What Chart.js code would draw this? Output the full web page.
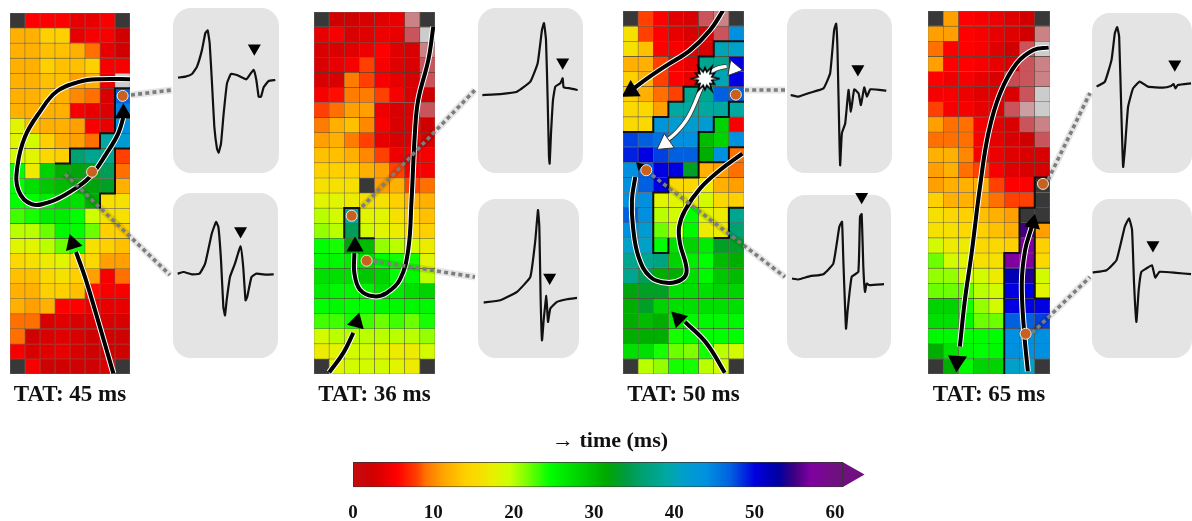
<!DOCTYPE html>
<html>
<head>
<meta charset="utf-8">
<title>Activation maps</title>
<script src="https://cdn.jsdelivr.net/npm/chart.js@4/dist/chart.umd.min.js"></script>
<style>
html, body { margin: 0; padding: 0; background: #fff; }
#fig { position: relative; width: 1192px; height: 521px; overflow: hidden; filter: blur(0.4px); }
#fig canvas { position: absolute; }
.card { position: absolute; background: #e4e4e4; border-radius: 18px; }
</style>
</head>
<body>
<div id="fig"></div>
<script>
// activation time in ms for each electrode, rows top to bottom, null = no signal
var map1Values = [
  [null,5.5,5.5,5.5,4,4,5,null],
  [12,12,14,14,4,5,5,2.5],
  [12,12,13,13,12,9,4,2.5],
  [12,12,14,13,13,14,5,5],
  [12,12,13,13,11,12,4,5],
  [12,12,13,12,10,9,3,47],
  [12,12,12,12,5,4,3,45],
  [18,13,12,12,11,5,4,44],
  [18,19,14,12,11,9,39,42],
  [19,18,15,14,36,38,38,8],
  [24.5,17,28,31,32,32,35,9],
  [24.5,27,29,30,31,32,33,12],
  [24.5,24.5,26,28,27,31,16,16],
  [23,24,26,26,24.5,19.5,16,16],
  [20,20,22,25,24.5,22,14,14],
  [18,18,20,22,24,16,14,13],
  [15,16,17,18,15,15,11,11],
  [13,13,15,16,14,11,5,9],
  [12,12,14,14,13,6,5,5],
  [12,11,12,5.5,5.5,4,4,4],
  [9,9,3,3.5,3,3,3,3],
  [9,2,3,3.5,3,2.5,2.5,2],
  [5,3,3.5,4,3,2,2.5,2],
  [null,5,2,2.5,2,2,3,null]
];
var map2Values = [
  [null,2.5,2,3,3.5,4,3,null],
  [4,5,3,3.5,4.5,4,3,3],
  [3,3,3.5,4.5,5.5,3.5,3,3],
  [3,4,5,8,5,3.5,3,3],
  [3,3,9.5,8,5,4,3,3],
  [5,6,9.5,9.5,8,5,3,2.5],
  [8,9,11,11,4.5,3,3,3],
  [9.5,12,13,10,5,3,3,2.5],
  [11,12,9.5,8,4,3,3,3],
  [13,13,12,10,8,4.5,4,5],
  [14,14,14,12,11,8,5,5],
  [16,16,16,null,11,12,8,9],
  [18,18,17,16,16,14,12,12],
  [20,19,39,18,18,16,14,13],
  [21,20,35,19,18,17,15,14],
  [24.5,24,32,30,21,20,19,17],
  [25,25,26,27,24.5,24,24,18],
  [27,27,27,29,28,24.5,25,20],
  [26,25,25,25.5,27,26,27,28],
  [24.5,25,24.5,24.5,25,25,25,25],
  [23,23,24,23,22,23,22,24],
  [19,20,20,20,20,20,20,21],
  [17,18,19,19,18,17,17,19],
  [null,18,19,19,19,18,17,null]
];
var map3Values = [
  [null,8,5.5,3.5,3,3,3,null],
  [16,8,5.5,4,3,3,3,44],
  [16,13,5.5,5,3.5,3,40,41],
  [12,12,8,5,4,38,38,50],
  [14,12,8,5.5,4,38,40,50],
  [14,12,9,8,38,38,47,47],
  [15,15,11,39,39,39,39,39],
  [15,15,43,42,42,42,28,5],
  [48,47,46,44,44,30,28,44],
  [49,50,48,47,47,31,44,9],
  [44,47,50,50,33,12,11,9],
  [44,47,50,15,15,17,12,11],
  [44,44,18,18,17,19,15,14],
  [47,44,20,19,24.5,18,17,38],
  [44,42,22,20,25,17,17,36],
  [41,41,24.5,27,28,26,33,33],
  [38,38,37,28,26,24.5,30,31],
  [38,35,31,31,27,25,29,30],
  [32,33,33,27,27,27,28,28],
  [31,33,28,27,27,27,27,27],
  [31,30,31,26,25,25,25,25],
  [31,31,31,24,24.5,24.5,24.5,24.5],
  [27,27,24,22,21.5,24,20,19],
  [null,20,21,24,24,20,19,null]
];
var map4Values = [
  [null,11,5.5,5,4.5,3.5,2.5,null],
  [11,11,5.5,5,4,3.5,2.5,3],
  [9,5.5,5.5,5,3.5,2.5,3,3],
  [11,5.5,5.5,5,4,3,3,3],
  [5.5,4.5,5,4,3,3,3,3],
  [5,5,4.5,3.5,3,3,3,3],
  [8,5,5,4,3,3,3,3],
  [11,9,9,5,3.5,3,3,3],
  [9,9,9,5,4,3,2.5,3],
  [12,12,10,5,4.5,3.5,3,3],
  [11,12,9,8,5,3.5,3,3],
  [11,12,12,12,8,5.5,5.5,null],
  [14,12,12,11,9,8,8,null],
  [16,15,14,13,12,11,null,null],
  [16,16,15,14,13,12,55,11],
  [19,17,17,15,15,14,57,14],
  [22,19,18,16,16,57,57,15],
  [21,21,19,19,17,52,54,19],
  [22,22,22,20,19,50,50,18],
  [28,28,24,21,19,50,50,50],
  [27,27,25,22,22,47,47,48],
  [25,25,24.5,24.5,24.5,44,44,44],
  [31,27,25,24.5,25,44,44,44],
  [null,31,25,28,28,41,41,null]
];

// low voltage electrodes shown washed out: row, column, amount of grey
var map1Pale = [[4,7,1]];
var map2Pale = [[0,6,.6],[1,6,.35],[1,7,1],[2,7,.6],[3,7,.35],[4,7,.35],[6,7,.35]];
var map3Pale = [[0,5,.35],[0,6,.6],[1,6,.35]];
var map4Pale = [[1,7,.6],[2,6,.35],[2,7,1],[3,6,.35],[3,7,.6],[4,5,.3],[4,6,.35],[4,7,.6],[5,6,.35],[5,7,1],
  [6,5,.35],[6,6,.75],[6,7,1],[7,6,.35],[7,7,.6],[8,7,.35]];

var mapTitles = ["TAT: 45 ms", "TAT: 36 ms", "TAT: 50 ms", "TAT: 65 ms"];

// colour scale
var rampStops = [0,2.5,5.5,8,9,11,14,16,17.5,19.5,21.5,24.5,27,29,31.5,34,36,39,41,44,47,50,53,55,57,60];
var rampColors = ["#c40c10","#d00000","#ff0000","#ff4000","#ff7000","#ffa000","#ffd000","#f5e000","#e8f000","#ccff00",
  "#80ff00","#00ff00","#00e000","#00c800","#00a800","#009a40","#00a070","#00a8a0","#00a0c8","#0090e0",
  "#0060e0","#0000e0","#0000a0","#400080","#8000a0","#701080"];
var rampTicks = [0,10,20,30,40,50,60];

// conduction block lines, in cell units
var map1Blocks = [
  {x:[8,7,7,6,6,4,4,3], y:[5,5,8,8,9,9,10,10]},
  {x:[8,7,7,6,6], y:[9,9,12,12,13]}
];
var map2Blocks = [
  {x:[2,2,3,3,4], y:[15,13,13,15,15]}
];
var map3Blocks = [
  {x:[8,6,6,5,5,4,4,3,3,2,2,0], y:[2,2,3,3,5,5,6,6,7,7,8,8]},
  {x:[3,3,2,2,3,3,4,5,5,7,7,8], y:[15,16,16,12,12,11,11,11,10,10,9,9]},
  {x:[8,7,7,6], y:[13,13,15,15]},
  {x:[5,5,6,6,7,7,8], y:[10,8,8,7,7,6,6]}
];
var map4Blocks = [
  {x:[5,5,6,6,7,7,8], y:[24,16,16,13,13,11,11]},
  {x:[8,7,7,8], y:[14,14,19,19]}
];

// wavefront paths, in cell units
var map1Paths = [
  {x:[8,6,4.67,3.11,2,1,.49,.56,1.44,2.67,4,5.33,6.44,7.22,7.6], y:[4.4,4.4,4.56,5.22,6.56,8.22,10.22,11.78,12.71,12.56,11.89,10.89,9.33,8,6.78]},
  {x:[6.89,6,5,4.4], y:[23.96,20.89,17.56,15.89]}
];
var map2Paths = [
  {x:[7.89,7.56,6.89,6.67,6.45,6.23,5.68,4.8,3.96,3.04,2.67,2.67], y:[.97,3.18,5.83,8.04,12.45,15.76,17.75,18.63,18.85,18.41,17.31,15.98]},
  {x:[1.01,1.94,2.6], y:[23.89,22.6,21.28]}
];
var map3Paths = [
  {x:[6.62,5.75,4.43,2.89,1.58,.7], y:[-.04,1.28,2.6,3.59,4.47,5.13]},
  {x:[7.89,6.4,5.09,4.1,3.71,3.77,4.21,3.88,2.89,1.8,1.03,.66,.59,.81], y:[9.43,10.53,11.74,13.17,14.27,15.37,17.14,17.75,17.97,17.58,16.26,14.27,12.51,10.97]},
  {x:[6.73,5.53,4.1], y:[23.92,21.98,20.55]}
];
var map4Paths = [
  {x:[7.91,6.92,5.82,4.73,3.96,3.41,2.86,2.42,2.09], y:[2.42,2.58,3.46,5.44,8.08,11.61,16.01,19.1,22.18]},
  {x:[6.55,6.31,6.15,6.37,6.81], y:[23.83,21.3,18,15.8,14.25]}
];
var map3WhitePaths = [
  {x:[5.2,4.32,3.44,2.57], y:[5.02,7,8.11,8.77]},
  {x:[5.53,6.18,6.85], y:[4.25,3.81,3.66]}
];

// arrow heads: x, y, direction, size
var map1Heads = [[7.56,6.67,0,10],[4.18,15.33,-18,10]];
var map2Heads = [[2.71,15.54,0,10],[2.82,20.57,15,10]];
var map3Heads = [[.53,5.29,-122,11],[1.1,10.24,-45,5],[3.66,20.33,-45,10]];
var map4Heads = [[1.91,23.17,184,11],[6.88,14.03,12,9.5]];
var map3WhiteHeads = [[2.79,8.77,-125,10],[7.32,3.81,100,9]];

// recording sites
var map1Sites = {x:[7.51,5.47], y:[5.51,10.56]};
var map2Sites = {x:[2.49,3.48], y:[13.51,16.49]};
var map3Sites = {x:[7.46,1.54], y:[5.53,10.53]};
var map4Sites = {x:[7.54,6.4], y:[11.43,21.34]};
var map3Origin = {x:[5.42], y:[4.47]};

// electrograms
var wave1aT = [0,22,42,57,72,82,89,95,102,109,117,122,129,137,147,159,177,205,217,227,235,242,249,257,272,292];
var wave1aV = [0,3,11,33,83,133,141,103,-17,-147,-212,-224,-197,-107,-17,11,8,-5,11,23,-7,-57,-57,-29,-10,-7];
var wave1bT = [0,18,43,66,83,103,116,123,131,138,143,148,158,173,190,198,205,210,223,238,268,290];
var wave1bV = [0,5,-2,0,30,120,155,140,40,-100,-125,-80,-10,30,82,20,-80,-70,-10,0,-3,-2];
var wave2aT = [0,54,104,144,166,179,185,191,196,200,202,206,212,219,234,241,244,264,286];
var wave2aV = [0,3,10,40,95,195,215,165,-15,-185,-205,-115,-15,25,35,50,23,20,15];
var wave2bT = [0,50,100,140,155,163,167,171,175,180,188,193,200,220,250,280];
var wave2bV = [0,7,32,77,187,277,227,7,-113,-53,20,-58,-18,2,10,14];
var wave3aT = [0,23,58,98,118,130,136,140,146,148,153,163,173,180,190,203,210,220,228,238,286];
var wave3aV = [0,-5,7,20,65,195,213,135,-145,-210,-115,-85,15,-50,17,5,-30,23,-5,17,13];
var wave3bT = [0,19,54,94,124,142,150,154,162,167,179,199,204,209,214,219,224,232,276];
var wave3bV = [0,-3,7,13,45,155,170,55,-150,-95,5,20,185,193,35,-40,-15,-20,-17];
var wave4aT = [0,25,45,55,62,68,75,80,85,95,110,130,155,200,225,232,238,245,285];
var wave4aV = [0,15,80,160,178,150,-90,-240,-190,-60,-5,15,0,-3,2,8,-5,5,10];
var wave4bT = [0,42,72,97,110,119,125,132,139,147,162,179,189,202,252,297];
var wave4bV = [0,7,37,137,162,127,-33,-148,-53,2,12,22,-15,2,-1,-5];

// late potential marked with a triangle on each trace
var markerT = [229,190,241,198,201,209,236,182];
var markerV = [88,128,98,75,78,245,67,82];

// dotted lines from the site to its trace, in page units
var linkX = [[131,172],[65,170],[362,475],[373,475],[745,785],[652,785],[1048,1090],[1032,1090]];
var linkY = [[95,90],[174,275],[207,90],[261,277],[90,90],[175,277],[180,93],[333,277]];

var fig = document.getElementById("fig");
var serif = "'Liberation Serif', 'Times New Roman', serif";

function addCanvas(parent, left, top, width, height) {
  var c = document.createElement("canvas");
  c.width = width;
  c.height = height;
  c.style.left = left + "px";
  c.style.top = top + "px";
  c.style.width = width + "px";
  c.style.height = height + "px";
  parent.appendChild(c);
  return c;
}

function hexToRgb(h) {
  return [parseInt(h.substr(1,2),16), parseInt(h.substr(3,2),16), parseInt(h.substr(5,2),16)];
}

function colorAt(v) {
  if (v === null) return "#383838";
  for (var i = 1; i < rampStops.length; i++) {
    if (v <= rampStops[i]) {
      var f = (v - rampStops[i-1]) / (rampStops[i] - rampStops[i-1]);
      var a = hexToRgb(rampColors[i-1]), b = hexToRgb(rampColors[i]);
      return "rgb(" + Math.round(a[0]+(b[0]-a[0])*f) + "," + Math.round(a[1]+(b[1]-a[1])*f) + "," + Math.round(a[2]+(b[2]-a[2])*f) + ")";
    }
  }
  return rampColors[rampColors.length-1];
}

function paleColor(f) {
  return "rgb(" + Math.round(200+4*f) + "," + Math.round(20+184*f) + "," + Math.round(30+174*f) + ")";
}

function zip(p) {
  return p.x.map(function(x, i) { return {x: x, y: p.y[i]}; });
}

function pathSet(p, color, width, order) {
  return {type: "line", data: zip(p), xAxisID: "xl", yAxisID: "yl", borderColor: color, borderWidth: width,
    pointRadius: 0, tension: 0.4, fill: false, clip: false, order: order};
}

function headSet(h, color, edge, order) {
  return {type: "line", data: [{x: h[0], y: h[1]}], xAxisID: "xl", yAxisID: "yl", showLine: false, clip: false,
    pointStyle: "triangle", pointRadius: h[3], pointRotation: h[2], pointBackgroundColor: color,
    pointBorderColor: edge, pointBorderWidth: edge ? 1 : 0, order: order};
}

// white burst for the breakout point
function burstImage() {
  var c = document.createElement("canvas");
  c.width = 30; c.height = 30;
  var g = c.getContext("2d");
  g.beginPath();
  for (var i = 0; i < 24; i++) {
    var r = i % 2 ? 7 : (i % 4 ? 11 : 14);
    var a = i * Math.PI / 12;
    g.lineTo(15 + r * Math.cos(a), 15 + r * Math.sin(a));
  }
  g.closePath();
  g.fillStyle = "#fff";
  g.fill();
  g.lineWidth = 1.6;
  g.strokeStyle = "#000";
  g.stroke();
  return c;
}

function drawMap(box, title, values, pale, blocks, paths, heads, sites, extra) {
  var colors = values.map(function(row) { return row.map(colorAt); });
  pale.forEach(function(p) { colors[p[0]][p[1]] = paleColor(p[2]); });

  var sets = [];
  values.forEach(function(row, r) {
    sets.push({type: "bar", data: row.map(function() { return 1; }), backgroundColor: colors[r],
      borderColor: "rgba(30,20,0,0.6)", borderWidth: 0.6, borderSkipped: false, grouped: false,
      barPercentage: 1, categoryPercentage: 1, xAxisID: "x", yAxisID: "y", order: 20});
  });
  blocks.forEach(function(b) {
    var s = pathSet(b, "#111", 2, 10);
    s.tension = 0;
    sets.push(s);
  });
  paths.forEach(function(p) {
    sets.push(pathSet(p, "#fff", 6, 8));
    sets.push(pathSet(p, "#000", 4, 6));
  });
  heads.forEach(function(h) { sets.push(headSet(h, "#000", null, 4)); });
  if (extra) extra.forEach(function(s) { sets.push(s); });
  sets.push({type: "line", data: zip(sites), xAxisID: "xl", yAxisID: "yl", showLine: false, clip: false,
    pointRadius: 5.5, pointBackgroundColor: "#c8601e", pointBorderColor: "#f4e8dc", pointBorderWidth: 1, order: 1});

  new Chart(addCanvas(fig, box[0], box[1], box[2], box[3] + 36), {
    type: "bar",
    data: {labels: values[0].map(function(v, i) { return i + 1; }), datasets: sets},
    options: {
      responsive: false, animation: false, events: [],
      layout: {padding: 0, autoPadding: false},
      plugins: {
        legend: {display: false}, tooltip: {enabled: false},
        title: {display: true, position: "bottom", text: title, color: "#111",
          font: {family: serif, size: 23, weight: "bold"}, padding: {top: 7, bottom: 1.4}}
      },
      scales: {
        x: {type: "category", stacked: true, offset: true, display: false},
        y: {type: "linear", stacked: true, reverse: true, min: 0, max: 24, display: false},
        xl: {type: "linear", offset: false, min: 0, max: 8, display: false},
        yl: {type: "linear", reverse: true, min: 0, max: 24, display: false}
      }
    }
  });
}

function drawWave(box, range, t, v, mt, mv) {
  var card = document.createElement("div");
  card.className = "card";
  card.style.left = box[0] + "px";
  card.style.top = box[1] + "px";
  card.style.width = box[2] + "px";
  card.style.height = box[3] + "px";
  fig.appendChild(card);

  // canvas stands 12px above the card so a marker can sit over its edge
  var c = addCanvas(card, 0, -12, box[2], box[3] + 12);
  new Chart(c, {
    type: "line",
    data: {datasets: [
      {data: zip({x: mt, y: mv}), showLine: false, pointStyle: "triangle", pointRadius: 7.5, pointRotation: 180,
        pointBackgroundColor: "#000", pointBorderWidth: 0, clip: false},
      {data: zip({x: t, y: v}), borderColor: "#111", borderWidth: 2.2, pointRadius: 0, tension: 0.12, clip: false}
    ]},
    options: {
      responsive: false, animation: false, events: [],
      layout: {autoPadding: false},
      plugins: {legend: {display: false}, tooltip: {enabled: false}},
      scales: {
        x: {type: "linear", min: range[0], max: range[1], display: false},
        y: {type: "linear", min: range[2], max: range[3] + 36, display: false}
      }
    }
  });
}

function drawLinks() {
  var sets = [];
  linkX.forEach(function(xs, i) {
    var p = {x: xs, y: linkY[i]};
    sets.push({data: zip(p), borderColor: "#7d7d7d", borderWidth: 3.6, borderDash: [4, 3.2], pointRadius: 0, tension: 0, order: 1});
    sets.push({data: zip(p), borderColor: "rgba(0,0,0,0.10)", borderWidth: 7, pointRadius: 0, tension: 0, order: 2});
  });
  var c = addCanvas(fig, 0, 0, 1192, 521);
  c.style.pointerEvents = "none";
  new Chart(c, {
    type: "line",
    data: {datasets: sets},
    options: {
      responsive: false, animation: false, events: [],
      layout: {autoPadding: false},
      plugins: {legend: {display: false}, tooltip: {enabled: false}},
      scales: {
        x: {type: "linear", min: 0, max: 1192, display: false},
        y: {type: "linear", reverse: true, min: 0, max: 521, display: false}
      }
    }
  });
}

function drawColorbar() {
  new Chart(addCanvas(fig, 333, 428, 550, 110), {
    type: "bar",
    data: {
      labels: ["time"],
      datasets: [
        {type: "bar", indexAxis: "y", data: [[0, 61]], xAxisID: "x", yAxisID: "y",
          barPercentage: 1, categoryPercentage: 1, borderColor: "#333", borderWidth: 1, borderSkipped: false, order: 1,
          backgroundColor: function(ctx) {
            var sc = ctx.chart.scales.x;
            if (!ctx.chart.chartArea || !sc || !isFinite(sc.getPixelForValue(60))) return rampColors[0];
            var g = ctx.chart.ctx.createLinearGradient(sc.getPixelForValue(0), 0, sc.getPixelForValue(60), 0);
            rampStops.forEach(function(s, i) { g.addColorStop(s / 60, rampColors[i]); });
            return g;
          }},
        {type: "line", data: [{x: 61.9, y: 0.5}], xAxisID: "x", yAxisID: "yt", showLine: false, clip: false,
          pointStyle: "triangle", pointRadius: 14.4, pointRotation: 90, pointBackgroundColor: "#701080",
          pointBorderWidth: 0, order: 2}
      ]
    },
    options: {
      responsive: false, animation: false, events: [],
      layout: {padding: {left: 20, right: 16}, autoPadding: false},
      plugins: {
        legend: {display: false}, tooltip: {enabled: false},
        title: {display: true, text: "\u2192 time (ms)", color: "#111",
          font: {family: serif, size: 22, weight: "bold"}, padding: {top: 0, bottom: 7.6}}
      },
      scales: {
        x: {
          type: "linear", offset: false, min: 0, max: 64,
          afterBuildTicks: function(s) { s.ticks = rampTicks.map(function(v) { return {value: v}; }); },
          grid: {display: false, drawTicks: false}, border: {display: false},
          ticks: {color: "#111", padding: 14, maxRotation: 0, font: {family: serif, size: 19, weight: "bold"}}
        },
        y: {type: "category", display: false},
        yt: {type: "linear", min: 0, max: 1, display: false}
      }
    }
  });
}

drawMap([10,13,120,361], mapTitles[0], map1Values, map1Pale, map1Blocks, map1Paths, map1Heads, map1Sites);
drawMap([314,12,121,362], mapTitles[1], map2Values, map2Pale, map2Blocks, map2Paths, map2Heads, map2Sites);

var whiteSets = [];
map3WhitePaths.forEach(function(p) {
  whiteSets.push(pathSet(p, "#333", 5, 5));
  whiteSets.push(pathSet(p, "#fff", 3.4, 3));
});
map3WhiteHeads.forEach(function(h) { whiteSets.push(headSet(h, "#fff", "#333", 2)); });
whiteSets.push({type: "line", data: zip(map3Origin), xAxisID: "xl", yAxisID: "yl", showLine: false, clip: false,
  pointStyle: burstImage(), order: 0});
drawMap([623,11,121,363], mapTitles[2], map3Values, map3Pale, map3Blocks, map3Paths, map3Heads, map3Sites, whiteSets);
drawMap([928,11,122,363], mapTitles[3], map4Values, map4Pale, map4Blocks, map4Paths, map4Heads, map4Sites);

drawWave([173,8,106,165], [-15,303,-285,208], wave1aT, wave1aV, [markerT[0]], [markerV[0]]);
drawWave([173,193,105,165], [-14,303,-253,242], wave1bT, wave1bV, [markerT[1]], [markerV[1]]);
drawWave([478,8,105,165], [-13,302,-233,260], wave2aT, wave2aV, [markerT[2]], [markerV[2]]);
drawWave([478,199,101,159], [-17,286,-166,310], wave2bT, wave2bV, [markerT[3]], [markerV[3]]);
drawWave([787,9,105,164], [-11,303,-233,257], wave3aT, wave3aV, [markerT[4]], [markerV[4]]);
drawWave([787,195,104,163], [-15,297,-238,250], wave3bT, wave3bV, [markerT[5]], [markerV[5]]);
drawWave([1092,13,100,160], [-14,288,-258,220], wave4aT, wave4aV, [markerT[6]], [markerV[6]]);
drawWave([1092,199,100,159], [-2,300,-256,220], wave4bT, wave4bV, [markerT[7]], [markerV[7]]);

drawLinks();
drawColorbar();
</script>
</body>
</html>
